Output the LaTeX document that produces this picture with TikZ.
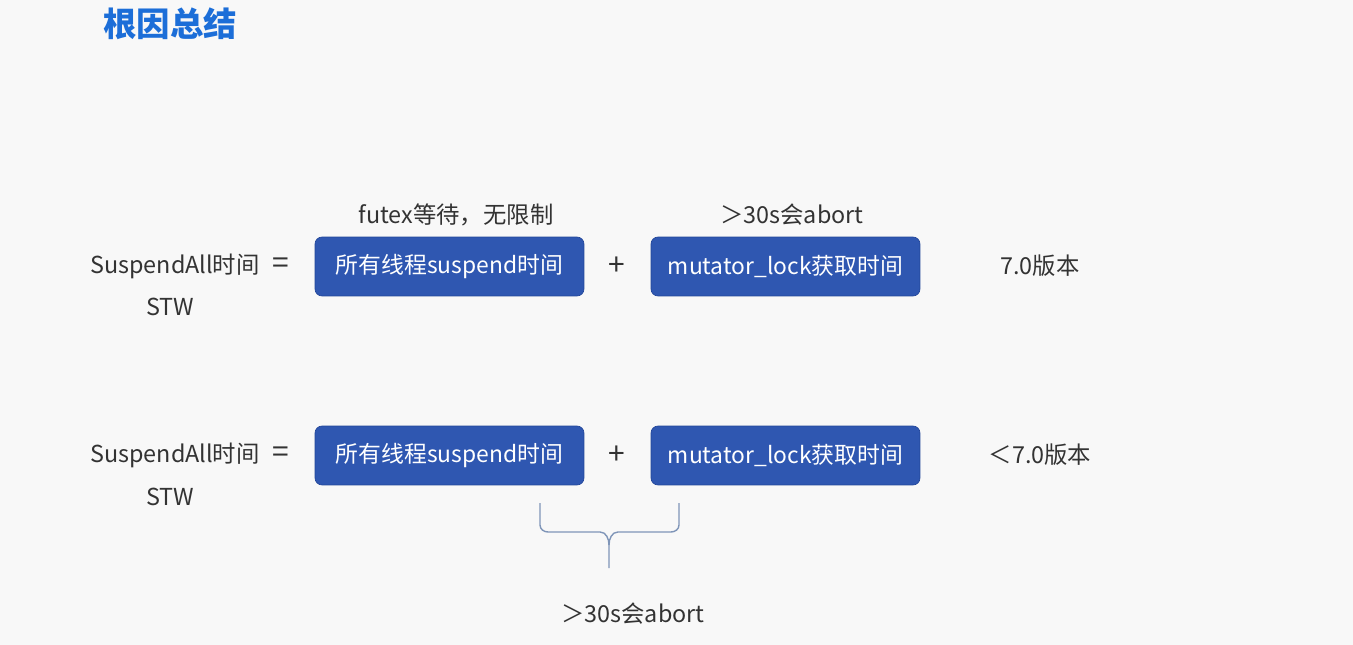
\documentclass[tikz,border=0pt]{standalone}
\usepackage{fontspec}
\newfontfamily\cjk{Noto Sans CJK SC}
\definecolor{boxblue}{HTML}{2F57B1}
\definecolor{boxline}{HTML}{22469A}
\definecolor{titleblue}{HTML}{1C6ED8}
\definecolor{bracecol}{HTML}{7F95B8}
\definecolor{bgcol}{HTML}{F8F8F8}
\begin{document}
\begin{tikzpicture}[x=0.02cm,y=-0.02cm,
  box/.style={draw=boxline, fill=boxblue, rounded corners=4pt, minimum width=5.38cm, minimum height=1.18cm, text=white, font=\cjk\fontsize{13}{16}\selectfont},
  lbl/.style={text=black!80, font=\cjk\fontsize{13.3}{16}\selectfont},
  op/.style={text=black!80, font=\cjk\fontsize{17}{20}\selectfont}]
\fill[bgcol] (0,0) rectangle (1353,645);
\node[text=titleblue, font=\cjk\bfseries\fontsize{19}{22}\selectfont] (title) at (170,24) {根因总结};

% 7.0
\node[lbl] (sa1) at (175,266) {SuspendAll时间};
\node[lbl] (stw1) at (170,307) {STW};
\node[op] (eq1) at (281,266) {=};
\node[box] (thr1) at (449.5,266.5) {所有线程suspend时间};
\node[op] (plus1) at (617,266) {+};
\node[box] (mut1) at (785.5,266.5) {mutator\_lock获取时间};
\node[lbl] (ver1) at (1040,266) {7.0版本};
\node[lbl] (fut) at (456,215) {futex等待，无限制};
\node[lbl] (ab1) at (792,215) {＞30s会abort};

% <7.0
\node[lbl] (sa2) at (175,455) {SuspendAll时间};
\node[lbl] (stw2) at (170,497) {STW};
\node[op] (eq2) at (281,455) {=};
\node[box] (thr2) at (449.5,455.5) {所有线程suspend时间};
\node[op] (plus2) at (617,455) {+};
\node[box] (mut2) at (785.5,455.5) {mutator\_lock获取时间};
\node[lbl] (ver2) at (1040,455) {＜7.0版本};

% brace
\coordinate (bl) at (540,503);
\coordinate (br) at (679,503);
\coordinate (tip) at (609,568);
\path[draw,color=bracecol,thick] (bl) -- (540,525) to[out=-90,in=180] (548,532) -- (600,532) to[out=0,in=90] (609,545) -- (tip);
\path[draw,color=bracecol,thick] (br) -- (679,525) to[out=-90,in=0] (671,532) -- (618,532) to[out=180,in=90] (609,545);
\node[lbl] (ab2) at (633,614) {＞30s会abort};
\end{tikzpicture}
\end{document}
